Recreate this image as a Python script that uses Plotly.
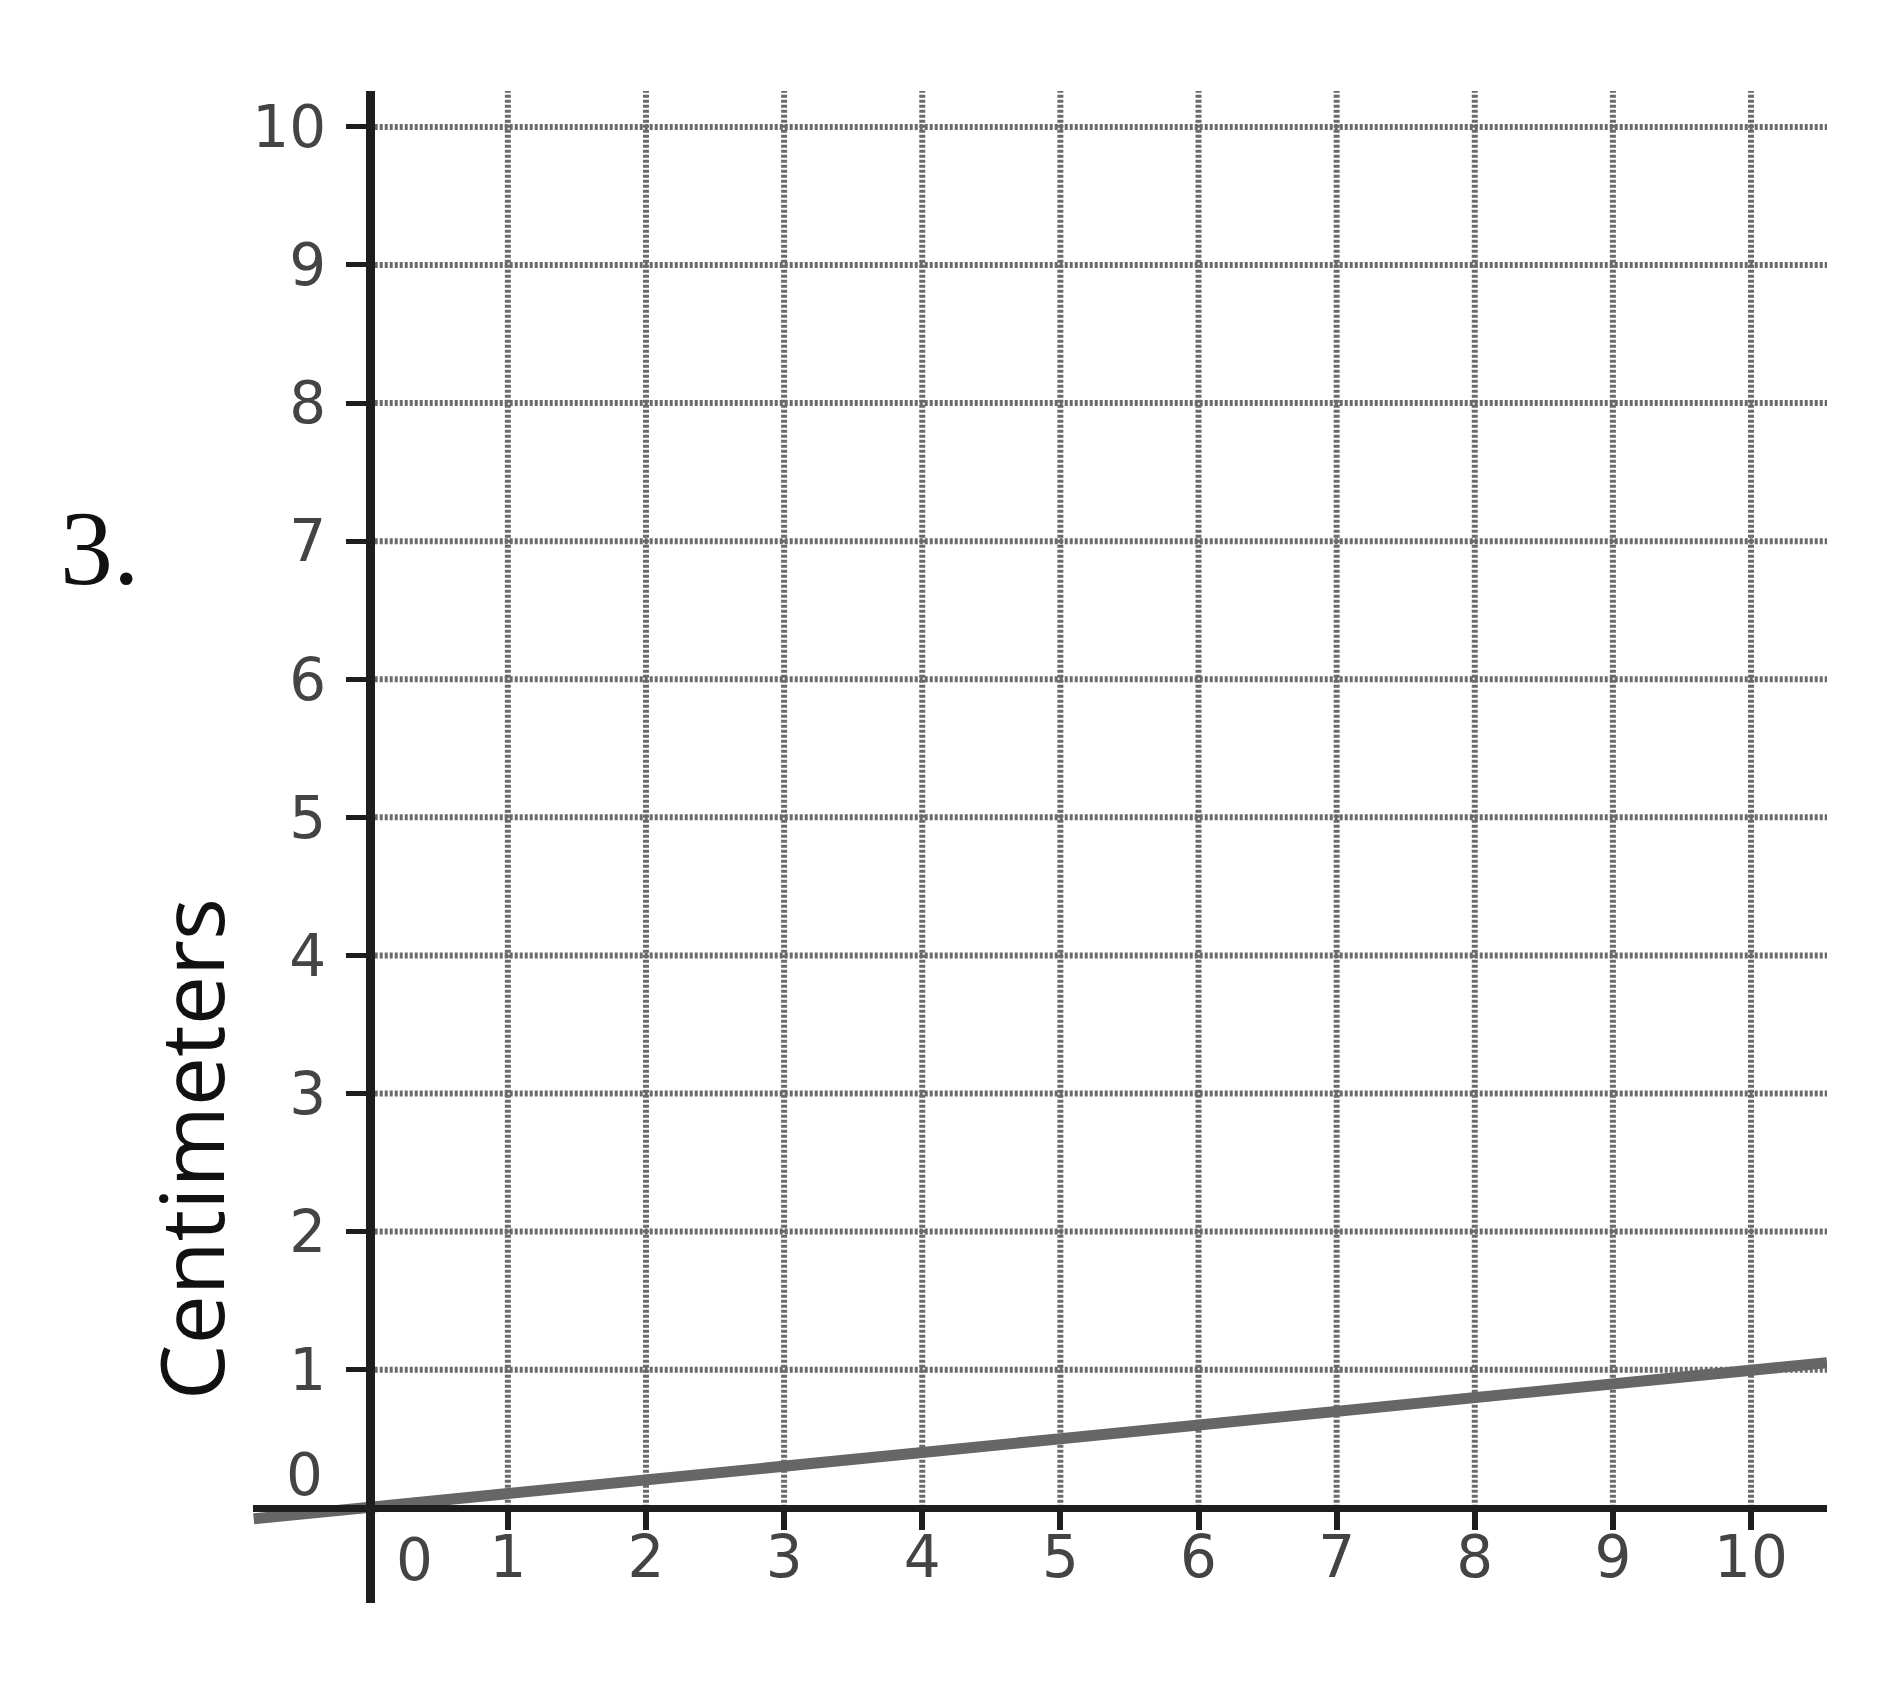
import plotly.graph_objects as go

# ---- data ----
x_ticks = [0, 1, 2, 3, 4, 5, 6, 7, 8, 9, 10]
y_ticks = [0, 1, 2, 3, 4, 5, 6, 7, 8, 9, 10]
x_tick_labels = ["0", "1", "2", "3", "4", "5", "6", "7", "8", "9", "10"]
y_tick_labels = ["0", "1", "2", "3", "4", "5", "6", "7", "8", "9", "10"]
line_x = [-0.84, 0, 1, 2, 3, 4, 5, 6, 7, 8, 9, 10, 10.55]
line_y = [-0.08, 0.0, 0.1, 0.2, 0.3, 0.4, 0.5, 0.6, 0.7, 0.8, 0.9, 1.0, 1.05]
y_title = "Centimeters"
problem_label = "3."

# ---- layout geometry ----
W, H = 1878, 1687
X_RANGE = [-0.845, 10.55]
Y_RANGE = [-0.69, 10.26]
ML, MR, MT, MB = 245, 59, 83, 92
PW, PH = W - ML - MR, H - MT - MB

def px_to_paper(px, py):
    return (px - ML) / PW, 1 - (py - MT) / PH

x_axis_pos = (0 - Y_RANGE[0]) / (Y_RANGE[1] - Y_RANGE[0])
y_axis_pos = (0 - X_RANGE[0]) / (X_RANGE[1] - X_RANGE[0])

AXIS_COLOR = "#1e1e1e"
GRID_COLOR = "#6a6a6a"
LABEL_COLOR = "#444444"
TICK_FONT = dict(family="DejaVu Sans", size=58, color=LABEL_COLOR)
GRID_LINE = dict(color=GRID_COLOR, width=6, dash="3px,2px")

fig = go.Figure()

# gridlines (vertical stop at the x-axis, horizontal start at the y-axis)
for xv in x_ticks[1:]:
    fig.add_shape(type="line", xref="x", yref="y", x0=xv, x1=xv, y0=0, y1=Y_RANGE[1],
                  line=GRID_LINE, layer="below")
for yv in y_ticks[1:]:
    fig.add_shape(type="line", xref="x", yref="y", x0=0, x1=X_RANGE[1], y0=yv, y1=yv,
                  line=GRID_LINE, layer="below")

fig.add_trace(go.Scatter(x=line_x, y=line_y, mode="lines",
                         line=dict(color="#666666", width=11),
                         hoverinfo="skip", showlegend=False))

fig.update_layout(
    width=W, height=H,
    margin=dict(l=ML, r=MR, t=MT, b=MB, autoexpand=False),
    paper_bgcolor="white", plot_bgcolor="white",
    showlegend=False,
    xaxis=dict(range=X_RANGE, anchor="free", position=x_axis_pos,
               showgrid=False, zeroline=False,
               showline=True, linecolor=AXIS_COLOR, linewidth=7,
               tickmode="array", tickvals=x_ticks[1:], ticktext=x_tick_labels[1:],
               ticks="outside", ticklen=18, tickwidth=6, tickcolor=AXIS_COLOR,
               tickfont=TICK_FONT, ticklabelstandoff=-22),
    yaxis=dict(range=Y_RANGE, anchor="free", position=y_axis_pos,
               showgrid=False, zeroline=False,
               showline=True, linecolor=AXIS_COLOR, linewidth=9,
               tickmode="array", tickvals=y_ticks[1:], ticktext=y_tick_labels[1:],
               ticks="outside", ticklen=20, tickwidth=5, tickcolor=AXIS_COLOR,
               tickfont=TICK_FONT, ticklabelstandoff=8),
)

# the offset "0" labels
fig.add_annotation(x=x_ticks[0], y=0, xref="x", yref="y", text=x_tick_labels[0],
                   showarrow=False, font=TICK_FONT, xanchor="center", yanchor="middle",
                   xshift=45, yshift=-52)
fig.add_annotation(x=0, y=y_ticks[0], xref="x", yref="y", text=y_tick_labels[0],
                   showarrow=False, font=TICK_FONT, xanchor="right", yanchor="middle",
                   xshift=-45, yshift=33)

# problem number
px, py = px_to_paper(92, 540)
fig.add_annotation(x=px, y=py, xref="paper", yref="paper", text=problem_label,
                   xanchor="center", yanchor="middle",
                   showarrow=False, font=dict(family="Liberation Serif", size=106, color="#111"))

# rotated axis title
px, py = px_to_paper(182, 1141)
fig.add_annotation(x=px, y=py, xref="paper", yref="paper", text=y_title, textangle=-90,
                   xanchor="center", yanchor="middle",
                   showarrow=False, font=dict(family="Open Sans", size=88, color="#111"))

fig.write_html("out.html")
